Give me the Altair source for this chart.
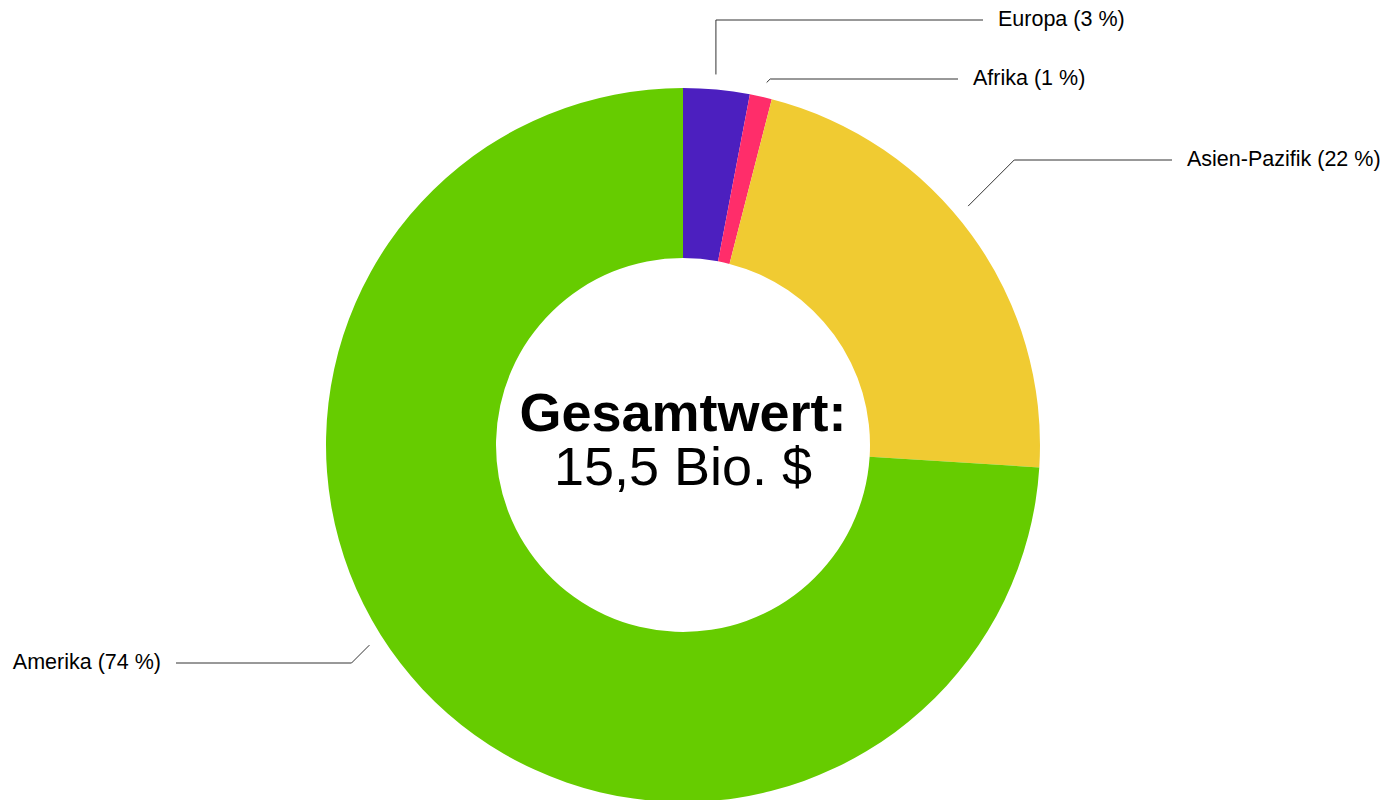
import math
import altair as alt
import pandas as pd

# ---- data ----
regions = ["Europa", "Afrika", "Asien-Pazifik", "Amerika"]
shares = [3, 1, 22, 74]  # percent
colors = ["#4C1FBF", "#FF2D6A", "#F0CB32", "#66CC00"]
center_line1 = "Gesamtwert:"
center_line2 = "15,5 Bio. $"

# ---- layout ----
W, H = 1384, 792
CX, CY = 675, 437
R_OUT, R_IN = 357, 187
R_LEAD = 372
anchor_frac = [0.47, 0.61, 0.45, 0.54]      # where in each slice the leader starts
label_y = [12, 71, 152, 655]                  # label row (chart px)
line_end_x = [975, 950, 1164, 168]
vertical = [True, False, False, False]
FONT = "Liberation Sans"
LABEL_SIZE = 21.5
CENTER_SIZE = 54

total = sum(shares)
pie = pd.DataFrame({"region": regions, "share": shares, "order": list(range(len(regions)))})

rows, labels = [], []
cum = 0.0
for i, (r, s) in enumerate(zip(regions, shares)):
    a0 = cum / total * 2 * math.pi
    a1 = (cum + s) / total * 2 * math.pi
    cum += s
    a = a0 + anchor_frac[i] * (a1 - a0)
    sx = CX + R_LEAD * math.sin(a)
    sy = CY - R_LEAD * math.cos(a)
    ly = label_y[i]
    if vertical[i]:
        ex = sx
    else:
        dy = ly - sy
        direction = 1 if math.sin(a) >= 0 else -1
        ex = sx + direction * abs(dy)
    pts = [(sx, sy), (ex, ly), (line_end_x[i], ly)]
    for k, (px, py) in enumerate(pts):
        rows.append({"region": r, "k": k, "x": px, "y": py})
    right = line_end_x[i] > CX
    labels.append({
        "text": f"{r} ({s} %)",
        "x": line_end_x[i] + (15 if right else -15),
        "y": ly,
        "align": "left" if right else "right",
    })
lines = pd.DataFrame(rows)
lab = pd.DataFrame(labels)

xs = alt.Scale(domain=[0, W], nice=False, zero=False)
ys = alt.Scale(domain=[0, H], nice=False, zero=False, reverse=True)

donut = alt.Chart(pie).mark_arc(radius=R_OUT, radius2=R_IN, stroke=None).encode(
    theta=alt.Theta("share:Q", stack=True),
    order=alt.Order("order:Q"),
    color=alt.Color("region:N", scale=alt.Scale(domain=regions, range=colors), legend=None),
    x=alt.value(CX),
    y=alt.value(CY),
)

leader = alt.Chart(lines).mark_line(color="#333333", strokeWidth=1).encode(
    x=alt.X("x:Q", scale=xs, axis=None),
    y=alt.Y("y:Q", scale=ys, axis=None),
    detail="region:N",
    order="k:Q",
)

lab_left = alt.Chart(lab[lab["align"] == "left"]).mark_text(
    align="left", baseline="middle", font=FONT, fontSize=LABEL_SIZE, color="#000000"
).encode(x=alt.X("x:Q", scale=xs, axis=None), y=alt.Y("y:Q", scale=ys, axis=None), text="text:N")

lab_right = alt.Chart(lab[lab["align"] == "right"]).mark_text(
    align="right", baseline="middle", font=FONT, fontSize=LABEL_SIZE, color="#000000"
).encode(x=alt.X("x:Q", scale=xs, axis=None), y=alt.Y("y:Q", scale=ys, axis=None), text="text:N")

ctr = pd.DataFrame({"t": [center_line1, center_line2], "x": [CX, CX], "y": [CY - 30, CY + 24]})
center1 = alt.Chart(ctr.iloc[[0]]).mark_text(
    align="center", baseline="middle", font=FONT, fontSize=CENTER_SIZE, fontWeight="bold", color="#000000"
).encode(x=alt.X("x:Q", scale=xs, axis=None), y=alt.Y("y:Q", scale=ys, axis=None), text="t:N")
center2 = alt.Chart(ctr.iloc[[1]]).mark_text(
    align="center", baseline="middle", font=FONT, fontSize=CENTER_SIZE, color="#000000"
).encode(x=alt.X("x:Q", scale=xs, axis=None), y=alt.Y("y:Q", scale=ys, axis=None), text="t:N")

chart = alt.layer(donut, leader, lab_left, lab_right, center1, center2).properties(
    width=W, height=H, padding=0, background="#ffffff",
    autosize=alt.AutoSizeParams(type="none")
).configure_view(stroke=None)

chart.save("out.html", embed_options={"renderer": "svg", "actions": False})
